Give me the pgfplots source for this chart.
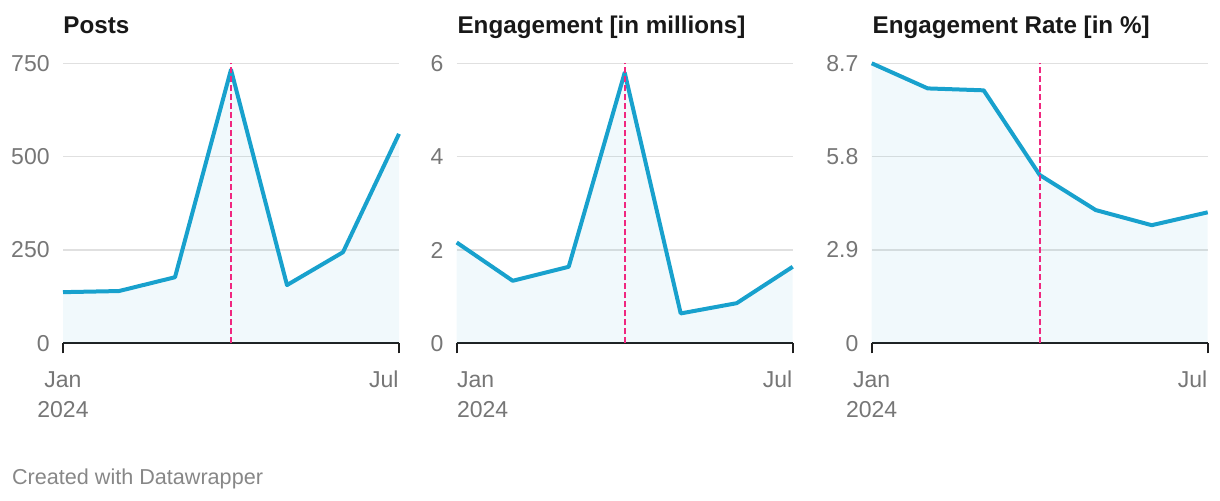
\documentclass[border=0pt]{standalone}
\usepackage{fontspec}
\setmainfont{Liberation Sans}
\usepackage{pgfplots}
\pgfplotsset{compat=1.18}
\definecolor{lineblue}{RGB}{24,161,205}
\definecolor{pinkline}{RGB}{240,40,128}
\definecolor{gridgray}{RGB}{224,224,224}
\definecolor{ticktext}{RGB}{118,118,118}
\definecolor{titletext}{RGB}{24,24,24}
\definecolor{foot}{RGB}{135,135,135}
\newcommand{\ticksz}{\fontsize{11.5}{13}\selectfont}
\pgfplotsset{
  panel/.style={
    scale only axis, width=168pt, height=140pt,
    anchor=south west,
    xmin=0, xmax=6, ymin=0,
    axis x line*=bottom, axis y line*=left,
    y axis line style={draw=none},
    x axis line style={line width=1.1pt, color=black!88},
    xtick={0,6}, xticklabels={},
    x tick style={line width=1.1pt, color=black!88},
    tick align=outside, major tick length=5pt,
    y tick style={draw=none},
    ymajorgrids, major grid style={gridgray, line width=0.7pt},
    yticklabel style={font=\ticksz, text=ticktext, anchor=east, inner sep=0pt, xshift=-1.5pt},
    clip=false,
  },
  area/.style={draw=none, fill=lineblue, fill opacity=0.06},
  curve/.style={lineblue, line width=2pt, line join=round, mark=none},
  marker/.style={pinkline, line width=0.9pt, dash pattern=on 3pt off 1.5pt},
}
\pgfplotstableread{
m v
0 137
1 140
2 177
3 733
4 156
5 244
6 561
}\posts
\pgfplotstableread{
m v
0 2.16
1 1.34
2 1.64
3 5.80
4 0.64
5 0.86
6 1.64
}\engage
\pgfplotstableread{
m v
0 8.70
1 7.92
2 7.86
3 5.23
4 4.14
5 3.67
6 4.07
}\rate
\begin{document}
\begin{tikzpicture}
\path[use as bounding box] (0,0) rectangle (610pt,250pt);
% Panel 1
\begin{axis}[panel, at={(31.5pt,78.35pt)}, ymax=750, ytick={0,250,500,750}, yticklabels={0,250,500,750}]
\addplot[area] table[x=m,y=v] {\posts} \closedcycle;
\addplot[curve] table[x=m,y=v] {\posts};
\addplot[marker] coordinates {(3,0) (3,750)};
\node[anchor=base, inner sep=0pt, font=\ticksz, text=ticktext, yshift=-22.2pt] at (axis cs:0,0) {Jan};
\node[anchor=base, inner sep=0pt, font=\ticksz, text=ticktext, yshift=-37pt] at (axis cs:0,0) {2024};
\node[anchor=base east, inner sep=0pt, font=\ticksz, text=ticktext, yshift=-22.2pt] at (axis cs:6,0) {Jul};
\end{axis}
% Panel 2
\begin{axis}[panel, at={(228.35pt,78.35pt)}, ymax=6, ytick={0,2,4,6}, yticklabels={0,2,4,6}]
\addplot[area] table[x=m,y=v] {\engage} \closedcycle;
\addplot[curve] table[x=m,y=v] {\engage};
\addplot[marker] coordinates {(3,0) (3,6)};
\node[anchor=base west, inner sep=0pt, font=\ticksz, text=ticktext, yshift=-22.2pt] at (axis cs:0,0) {Jan};
\node[anchor=base west, inner sep=0pt, font=\ticksz, text=ticktext, yshift=-37pt] at (axis cs:0,0) {2024};
\node[anchor=base east, inner sep=0pt, font=\ticksz, text=ticktext, yshift=-22.2pt] at (axis cs:6,0) {Jul};
\end{axis}
% Panel 3
\begin{axis}[panel, at={(435.85pt,78.35pt)}, ymax=8.7, ytick={0,2.9,5.8,8.7}, yticklabels={0,2.9,5.8,8.7}]
\addplot[area] table[x=m,y=v] {\rate} \closedcycle;
\addplot[curve] table[x=m,y=v] {\rate};
\addplot[marker] coordinates {(3,0) (3,8.7)};
\node[anchor=base, inner sep=0pt, font=\ticksz, text=ticktext, yshift=-22.2pt] at (axis cs:0,0) {Jan};
\node[anchor=base, inner sep=0pt, font=\ticksz, text=ticktext, yshift=-37pt] at (axis cs:0,0) {2024};
\node[anchor=base east, inner sep=0pt, font=\ticksz, text=ticktext, yshift=-22.2pt] at (axis cs:6,0) {Jul};
\end{axis}
% Titles
\node[anchor=base west, inner sep=0pt, font=\bfseries\fontsize{12.1}{14}\selectfont, text=titletext] at (31.5pt,233.35pt) {Posts};
\node[anchor=base west, inner sep=0pt, font=\bfseries\fontsize{12.1}{14}\selectfont, text=titletext] at (228.6pt,233.35pt) {Engagement [in millions]};
\node[anchor=base west, inner sep=0pt, font=\bfseries\fontsize{12.1}{14}\selectfont, text=titletext] at (436.1pt,233.35pt) {Engagement Rate [in \%]};
% Footer
\node[anchor=base west, inner sep=0pt, font=\fontsize{10.8}{12}\selectfont, text=foot] at (5.85pt,7.85pt) {Created with Datawrapper};
\end{tikzpicture}
\end{document}
